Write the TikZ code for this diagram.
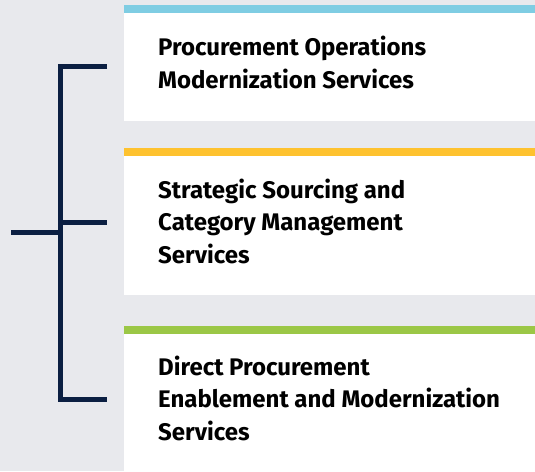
\documentclass[tikz,border=0pt]{standalone}
\usepackage{fontspec}
\setmainfont{Fira Sans}
\definecolor{pagegray}{HTML}{E8E9ED}
\definecolor{skyblue}{HTML}{7FCDE3}
\definecolor{sunyellow}{HTML}{FEC22F}
\definecolor{leafgreen}{HTML}{9BC746}
\definecolor{navy}{HTML}{0B1F42}
\begin{document}
\begin{tikzpicture}[x=1pt,y=-1pt,
  bar/.style={rectangle,anchor=north west,inner sep=0,outer sep=0,minimum width=411pt,minimum height=8pt},
  card/.style={rectangle,fill=white,anchor=north west,inner sep=0,outer sep=0,minimum width=411pt},
  lbl/.style={anchor=base west,align=left,inner sep=0,text=black,font=\bfseries\fontsize{24}{32.5}\selectfont},
  bracket/.style={draw=navy,line width=5pt}]
\useasboundingbox[fill=pagegray] (0,0) rectangle (535,471);
% three cards with coloured top bars
\draw (124,5) node[bar,fill=skyblue] (bar1) {};
\draw (bar1.south west) node[card,minimum height=108pt] (card1) {};
\draw (124,148) node[bar,fill=sunyellow] (bar2) {};
\draw (bar2.south west) node[card,minimum height=139pt] (card2) {};
\draw (124,326) node[bar,fill=leafgreen] (bar3) {};
\draw (bar3.south west) node[card,minimum height=137pt] (card3) {};
% base of a multi-line node is its last line
\draw (158,88) node[lbl] (txt1) {Procurement Operations\\Modernization Services};
\draw (158,263) node[lbl] (txt2) {Strategic Sourcing and\\Category Management\\Services};
\draw (158,440) node[lbl] (txt3) {Direct Procurement\\Enablement and Modernization\\Services};
% bracket
\coordinate (top) at (107,66);
\coordinate (topc) at (60,66);
\coordinate (mid) at (107,222);
\coordinate (midc) at (60,222);
\coordinate (bot) at (107,399);
\coordinate (botc) at (60,399);
\coordinate (stem) at (11,232);
\draw[bracket] (top) -- (topc) -- (botc) -- (bot);
\draw[bracket] (midc) -- (mid);
\draw[bracket] (stem) -- (stem -| topc);
\end{tikzpicture}
\end{document}
